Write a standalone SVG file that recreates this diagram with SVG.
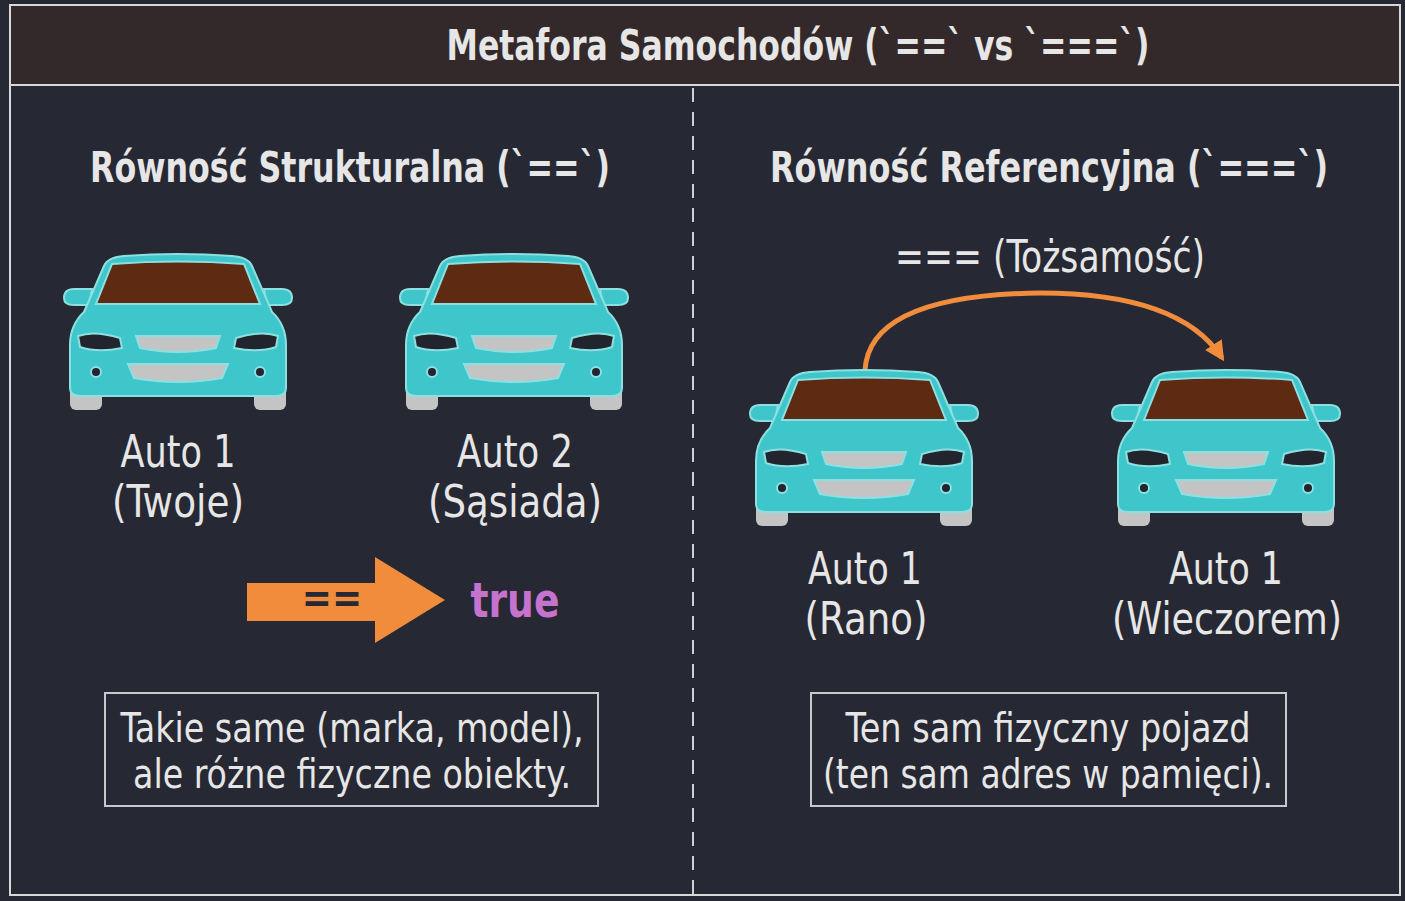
<svg xmlns="http://www.w3.org/2000/svg" width="1405" height="901" viewBox="0 0 1405 901">
<style>
text{font-family:"Liberation Sans Narrow","DejaVu Sans Condensed","Roboto Condensed",sans-serif;fill:#e6e6e6;text-anchor:middle}
.h{font-weight:bold;font-size:42px}
.l{font-size:44px}
.b{font-size:40px}
.box{fill:none;stroke:#c8c8c8;stroke-width:2}
</style>
<defs>
<g id="car">
<rect x="6" y="118" width="32" height="42" rx="6" fill="#c4c4c4"/>
<rect x="190" y="118" width="32" height="42" rx="6" fill="#c4c4c4"/>
<path d="M0 48 q0-9 10-9 h18 l-3 16 h-15 q-10 0-10-7z M228 48 q0-9-10-9 h-18 l3 16 h15 q10 0 10-7z" fill="#3ec6cb" stroke="#8de0e2" stroke-width="2"/>
<path d="M20 62 L40 16 Q44 7 60 6 Q114 2 168 6 Q184 7 188 16 L208 62 Q222 75 222 95 L222 138 Q222 146 212 146 L16 146 Q6 146 6 138 L6 95 Q6 75 20 62Z" fill="#3ec6cb" stroke="#8de0e2" stroke-width="2"/>
<path d="M48 14 Q114 9 180 14 L196 54 L32 54Z" fill="#5e2a12" stroke="#8de0e2" stroke-width="2"/>
<path d="M14 86 Q30 80 56 88 L58 98 Q34 103 16 97Z M214 86 Q198 80 172 88 L170 98 Q194 103 212 97Z" fill="#23252e" stroke="#8de0e2" stroke-width="2"/>
<path d="M72 86 H156 L152 98 Q114 106 76 98Z" fill="#c4c4c4" stroke="#8de0e2" stroke-width="2"/>
<path d="M64 114 H164 L158 128 Q114 136 70 128Z" fill="#c4c4c4" stroke="#8de0e2" stroke-width="2"/>
<circle cx="32" cy="122" r="5" fill="#23252e" stroke="#8de0e2" stroke-width="2"/>
<circle cx="196" cy="122" r="5" fill="#23252e" stroke="#8de0e2" stroke-width="2"/>
</g>
<marker id="ah" viewBox="0 0 10 10" refX="8" refY="5" markerWidth="4" markerHeight="4" orient="auto"><path d="M0 0L10 5L0 10z" fill="#f08c3c"/></marker>
</defs>
<rect width="1405" height="901" fill="#262833"/>
<rect x="10" y="5" width="1390" height="80" fill="#33292a"/>
<rect x="10" y="5" width="1390" height="890" fill="none" stroke="#d8d8d8" stroke-width="2"/>
<line x1="10" y1="85" x2="1400" y2="85" stroke="#d8d8d8" stroke-width="2"/>
<text class="h" x="798" y="60" textLength="703" lengthAdjust="spacingAndGlyphs">Metafora Samochodów (`==` vs `===`)</text>
<g id="connectors">
<line x1="693" y1="88" x2="693" y2="895" stroke="#d0d0d0" stroke-width="2" stroke-dasharray="14,10"/>
<path d="M865 370 Q870 295 1040 293 Q1180 293 1222 358" fill="none" stroke="#f08c3c" stroke-width="5" marker-end="url(#ah)"/>
<path d="M247 583 H375 V557 L445 600 L375 643 V621 H247Z" fill="#f08c3c"/>
<text x="332" y="612" style="font-size:40px;font-weight:bold;fill:#262833">==</text>
</g>
<g id="left-title"><text class="h" x="350" y="182" textLength="520" lengthAdjust="spacingAndGlyphs">Równość Strukturalna (`==`)</text></g>
<g id="right-title"><text class="h" x="1049" y="182" textLength="558" lengthAdjust="spacingAndGlyphs">Równość Referencyjna (`===`)</text></g>
<g id="car1"><use href="#car" x="64" y="250"/><text class="l" x="178" y="467" textLength="115" lengthAdjust="spacingAndGlyphs">Auto 1</text><text class="l" x="178" y="517" textLength="132" lengthAdjust="spacingAndGlyphs">(Twoje)</text></g>
<g id="car2"><use href="#car" x="400" y="250"/><text class="l" x="515" y="467" textLength="116" lengthAdjust="spacingAndGlyphs">Auto 2</text><text class="l" x="515" y="517" textLength="174" lengthAdjust="spacingAndGlyphs">(Sąsiada)</text></g>
<g id="true"><text x="515" y="617" textLength="89" lengthAdjust="spacingAndGlyphs" style="font-size:48px;font-weight:bold;fill:#c673cf">true</text></g>
<g id="identity"><text class="l" x="1050" y="272" textLength="310" lengthAdjust="spacingAndGlyphs">=== (Tożsamość)</text></g>
<g id="car3"><use href="#car" x="750" y="366"/><text class="l" x="865" y="584" textLength="114" lengthAdjust="spacingAndGlyphs">Auto 1</text><text class="l" x="866" y="634" textLength="123" lengthAdjust="spacingAndGlyphs">(Rano)</text></g>
<g id="car4"><use href="#car" x="1112" y="366"/><text class="l" x="1226" y="584" textLength="114" lengthAdjust="spacingAndGlyphs">Auto 1</text><text class="l" x="1227" y="634" textLength="230" lengthAdjust="spacingAndGlyphs">(Wieczorem)</text></g>
<g id="box-left"><rect class="box" x="105" y="693" width="493" height="113"/><text class="b" x="352" y="742" textLength="463" lengthAdjust="spacingAndGlyphs">Takie same (marka, model),</text><text class="b" x="352" y="788" textLength="438" lengthAdjust="spacingAndGlyphs">ale różne fizyczne obiekty.</text></g>
<g id="box-right"><rect class="box" x="811" y="693" width="475" height="113"/><text class="b" x="1048" y="742" textLength="405" lengthAdjust="spacingAndGlyphs">Ten sam fizyczny pojazd</text><text class="b" x="1048" y="788" textLength="450" lengthAdjust="spacingAndGlyphs">(ten sam adres w pamięci).</text></g>
</svg>
